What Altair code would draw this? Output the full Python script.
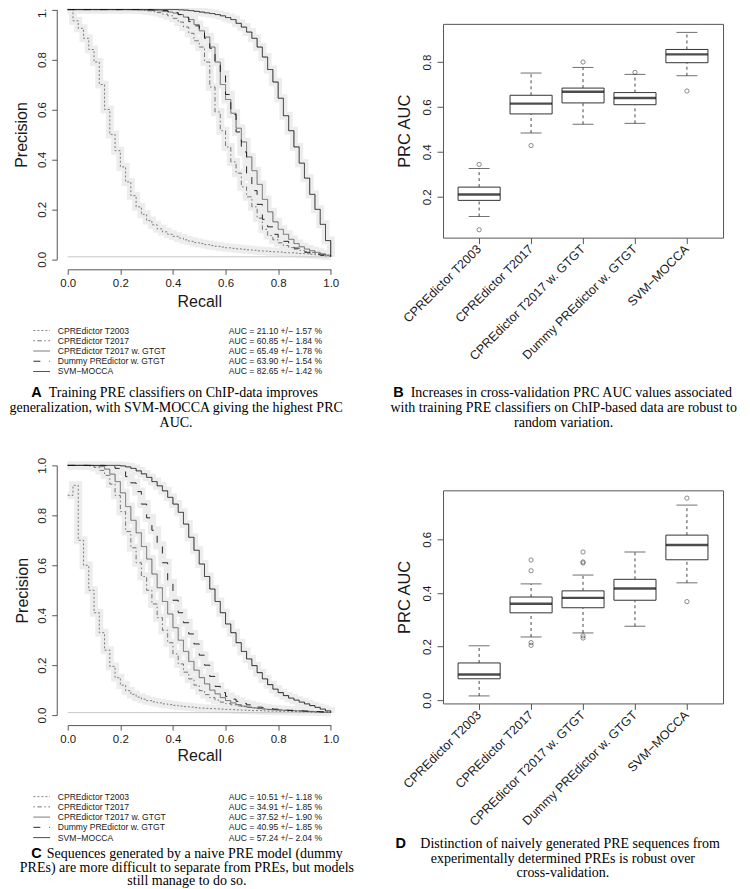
import altair as alt
import pandas as pd

# ---------------- data ----------------
SERIES = ["CPREdictor T2003", "CPREdictor T2017", "CPREdictor T2017 w. GTGT",
          "Dummy PREdictor w. GTGT", "SVM\u2212MOCCA"]

RECALL = [0.00, 0.02, 0.04, 0.06, 0.08, 0.10, 0.12, 0.14, 0.16, 0.18,
          0.20, 0.22, 0.24, 0.26, 0.28, 0.30, 0.32, 0.34, 0.36, 0.38,
          0.40, 0.42, 0.44, 0.46, 0.48, 0.50, 0.52, 0.54, 0.56, 0.58,
          0.60, 0.62, 0.64, 0.66, 0.68, 0.70, 0.72, 0.74, 0.76, 0.78,
          0.80, 0.82, 0.84, 0.86, 0.88, 0.90, 0.92, 0.94, 0.96, 0.98, 1.00]

# Panel A precision values
A_T2003 = [1.000, 0.955, 0.925, 0.885, 0.840, 0.790, 0.700, 0.600, 0.500, 0.435,
           0.370, 0.310, 0.255, 0.210, 0.180, 0.155, 0.138, 0.122, 0.110, 0.100,
           0.092, 0.085, 0.078, 0.072, 0.067, 0.063, 0.059, 0.055, 0.052, 0.049,
           0.046, 0.044, 0.042, 0.040, 0.038, 0.036, 0.034, 0.033, 0.031, 0.030,
           0.029, 0.027, 0.026, 0.025, 0.023, 0.022, 0.020, 0.018, 0.016, 0.013, 0.010]
A_T2017 = [1.000, 1.000, 1.000, 1.000, 1.000, 1.000, 1.000, 1.000, 1.000, 1.000,
           1.000, 1.000, 1.000, 0.999, 0.997, 0.995, 0.992, 0.988, 0.982, 0.975,
           0.965, 0.950, 0.930, 0.905, 0.875, 0.850, 0.790, 0.690, 0.590, 0.515,
           0.450, 0.390, 0.345, 0.290, 0.250, 0.210, 0.165, 0.120, 0.095, 0.078,
           0.066, 0.055, 0.047, 0.041, 0.036, 0.031, 0.027, 0.023, 0.019, 0.015, 0.011]
A_GTGT = [1.000, 1.000, 1.000, 1.000, 1.000, 1.000, 1.000, 1.000, 1.000, 1.000,
          1.000, 1.000, 1.000, 1.000, 0.999, 0.998, 0.997, 0.995, 0.993, 0.990,
          0.986, 0.980, 0.970, 0.960, 0.940, 0.915, 0.890, 0.850, 0.790, 0.700,
          0.640, 0.585, 0.525, 0.470, 0.410, 0.355, 0.300, 0.240, 0.190, 0.150,
          0.120, 0.100, 0.080, 0.063, 0.050, 0.041, 0.034, 0.028, 0.022, 0.017, 0.012]
A_DUMMY = [1.000, 1.000, 1.000, 1.000, 1.000, 1.000, 1.000, 1.000, 1.000, 1.000,
           1.000, 1.000, 1.000, 1.000, 1.000, 1.000, 0.999, 0.998, 0.996, 0.993,
           0.988, 0.980, 0.968, 0.952, 0.935, 0.915, 0.885, 0.845, 0.790, 0.740,
           0.660, 0.580, 0.510, 0.430, 0.330, 0.275, 0.220, 0.160, 0.130, 0.100,
           0.085, 0.072, 0.058, 0.045, 0.036, 0.028, 0.024, 0.020, 0.016, 0.013, 0.010]
A_SVM = [1.000, 1.000, 1.000, 1.000, 1.000, 1.000, 1.000, 1.000, 1.000, 1.000,
         1.000, 1.000, 1.000, 1.000, 1.000, 1.000, 1.000, 1.000, 1.000, 1.000,
         1.000, 0.999, 0.998, 0.996, 0.993, 0.990, 0.987, 0.984, 0.980, 0.975,
         0.968, 0.960, 0.945, 0.930, 0.910, 0.885, 0.850, 0.810, 0.760, 0.710,
         0.645, 0.575, 0.515, 0.450, 0.385, 0.325, 0.260, 0.200, 0.140, 0.075, 0.010]

# Panel C precision values
C_T2003 = [0.880, 0.920, 0.700, 0.600, 0.500, 0.410, 0.330, 0.260, 0.195, 0.150,
           0.120, 0.098, 0.083, 0.072, 0.064, 0.058, 0.053, 0.049, 0.045, 0.042,
           0.039, 0.036, 0.034, 0.032, 0.030, 0.028, 0.027, 0.026, 0.025, 0.024,
           0.023, 0.022, 0.021, 0.020, 0.019, 0.018, 0.018, 0.017, 0.016, 0.016,
           0.015, 0.015, 0.014, 0.014, 0.013, 0.013, 0.012, 0.012, 0.011, 0.011, 0.010]
C_T2017 = [1.000, 1.000, 1.000, 1.000, 0.998, 0.992, 0.980, 0.960, 0.925, 0.880,
           0.815, 0.735, 0.670, 0.610, 0.555, 0.500, 0.445, 0.390, 0.340, 0.290,
           0.245, 0.205, 0.172, 0.145, 0.120, 0.098, 0.082, 0.070, 0.060, 0.052,
           0.046, 0.041, 0.037, 0.034, 0.031, 0.029, 0.027, 0.025, 0.023, 0.022,
           0.021, 0.020, 0.019, 0.018, 0.017, 0.016, 0.015, 0.014, 0.013, 0.012, 0.011]
C_GTGT = [1.000, 1.000, 1.000, 1.000, 1.000, 0.999, 0.995, 0.985, 0.965, 0.935,
          0.890, 0.835, 0.780, 0.730, 0.675, 0.625, 0.565, 0.510, 0.455, 0.405,
          0.350, 0.300, 0.255, 0.215, 0.180, 0.150, 0.125, 0.100, 0.085, 0.070,
          0.058, 0.049, 0.042, 0.036, 0.032, 0.029, 0.026, 0.024, 0.022, 0.021,
          0.020, 0.019, 0.018, 0.017, 0.016, 0.015, 0.014, 0.013, 0.012, 0.011, 0.010]
C_DUMMY = [1.000, 1.000, 1.000, 1.000, 1.000, 1.000, 1.000, 0.999, 0.995, 0.988,
           0.975, 0.955, 0.930, 0.895, 0.845, 0.790, 0.740, 0.680, 0.610, 0.530,
           0.460, 0.410, 0.370, 0.325, 0.285, 0.240, 0.200, 0.155, 0.115, 0.090,
           0.075, 0.064, 0.055, 0.047, 0.041, 0.036, 0.032, 0.029, 0.026, 0.024,
           0.022, 0.020, 0.019, 0.018, 0.017, 0.016, 0.015, 0.014, 0.013, 0.012, 0.010]
C_SVM = [1.000, 1.000, 1.000, 1.000, 1.000, 1.000, 1.000, 1.000, 1.000, 1.000,
         0.998, 0.994, 0.988, 0.978, 0.966, 0.952, 0.935, 0.918, 0.898, 0.872,
         0.845, 0.812, 0.765, 0.712, 0.660, 0.605, 0.555, 0.505, 0.455, 0.410,
         0.365, 0.330, 0.290, 0.255, 0.225, 0.198, 0.170, 0.145, 0.122, 0.104,
         0.090, 0.078, 0.068, 0.060, 0.052, 0.045, 0.038, 0.031, 0.024, 0.017, 0.010]

BASELINE_A = 0.010
BASELINE_C = 0.010

AUC_A = ["AUC = 21.10 +/\u2212 1.57 %", "AUC = 60.85 +/\u2212 1.84 %", "AUC = 65.49 +/\u2212 1.78 %",
         "AUC = 63.90 +/\u2212 1.54 %", "AUC = 82.65 +/\u2212 1.42 %"]
AUC_C = ["AUC = 10.51 +/\u2212 1.18 %", "AUC = 34.91 +/\u2212 1.85 %", "AUC = 37.52 +/\u2212 1.90 %",
         "AUC = 40.95 +/\u2212 1.85 %", "AUC = 57.24 +/\u2212 2.04 %"]

# Boxplot statistics (panel B)
B_LW = [0.112, 0.484, 0.523, 0.527, 0.739]
B_Q1 = [0.184, 0.569, 0.618, 0.610, 0.797]
B_MED = [0.210, 0.615, 0.668, 0.640, 0.834]
B_Q3 = [0.243, 0.652, 0.684, 0.664, 0.856]
B_UW = [0.326, 0.751, 0.776, 0.745, 0.932]
B_OUT_CAT = [SERIES[0], SERIES[0], SERIES[1], SERIES[2], SERIES[3], SERIES[4]]
B_OUT_VAL = [0.344, 0.053, 0.428, 0.800, 0.754, 0.671]

# Boxplot statistics (panel D)
D_LW = [0.016, 0.236, 0.251, 0.276, 0.438]
D_Q1 = [0.080, 0.326, 0.345, 0.373, 0.524]
D_MED = [0.096, 0.360, 0.382, 0.417, 0.579]
D_Q3 = [0.139, 0.385, 0.408, 0.451, 0.616]
D_UW = [0.203, 0.434, 0.467, 0.553, 0.728]
D_OUT_CAT = [SERIES[1], SERIES[1], SERIES[1], SERIES[1],
             SERIES[2], SERIES[2], SERIES[2], SERIES[2], SERIES[2],
             SERIES[4], SERIES[4]]
D_OUT_VAL = [0.523, 0.483, 0.215, 0.205,
             0.553, 0.516, 0.512, 0.240, 0.232,
             0.754, 0.368]

PR_TICKS = [0.0, 0.2, 0.4, 0.6, 0.8, 1.0]
B_TICKS = [0.2, 0.4, 0.6, 0.8]
D_TICKS = [0.0, 0.2, 0.4, 0.6]

CAP_A = ["Training PRE classifiers on ChIP-data improves",
         "generalization, with SVM-MOCCA giving the highest PRC",
         "AUC."]
CAP_B = ["Increases in cross-validation PRC AUC values associated",
         "with training PRE classifiers on ChIP-based data are robust to",
         "random variation."]
CAP_C = ["Sequences generated by a naive PRE model (dummy",
         "PREs) are more difficult to separate from PREs, but models",
         "still manage to do so."]
CAP_D = ["Distinction of naively generated PRE sequences from",
         "experimentally determined PREs is robust over",
         "cross-validation."]

# ---------------- styles ----------------
SANS = "Liberation Sans"
SERIF = "Liberation Serif"
AXC = "#555555"
TXT = "#1a1a1a"
DASHES = [[2, 2], [1.5, 2.5, 4.5, 2.5], [1, 0], [7, 9], [1, 0]]
WIDTHS = [0.9, 0.9, 0.8, 3.0, 3.0]
COLORS = ["#707070", "#686868", "#5e5e5e", "#111111", "#111111"]

W_LEFT = 263.3
W_RIGHT = 280.3
CAP_FS = 14.0


def text_layer(txt, x, y, **kw):
    return alt.Chart(pd.DataFrame({"t": [txt]})).mark_text(**kw).encode(
        text="t:N", x=alt.value(x), y=alt.value(y))


def caption_layers(letter, lines, letter_x, line1_x, center_x, ys):
    out = [text_layer(letter, letter_x, ys[0], align="left", baseline="middle", font=SANS,
                      fontWeight="bold", fontSize=14.5, color="#000")]
    out.append(text_layer(lines[0], line1_x, ys[0], align="left", baseline="middle",
                          font=SERIF, fontSize=CAP_FS, color="#000"))
    for ln, yy in zip(lines[1:], ys[1:]):
        out.append(text_layer(ln, center_x, yy, align="center", baseline="middle",
                              font=SERIF, fontSize=CAP_FS, color="#000"))
    return out


def pr_panel(vals_list, baseline, aucs, letter, cap, geo):
    rows = []
    for name, vals in zip(SERIES, vals_list):
        assert len(vals) == len(RECALL), name
        for r, p in zip(RECALL, vals):
            rows.append({"series": name, "recall": r, "precision": p})
    df = pd.DataFrame(rows)

    x_axis = alt.Axis(values=PR_TICKS, format=".1f", title="Recall", offset=10, tickSize=5,
                      labelPadding=3, grid=False, domainColor=AXC, tickColor=AXC,
                      labelColor=TXT, titleColor=TXT, labelFont=SANS, titleFont=SANS,
                      labelFontSize=11.5, titleFontSize=16, titleFontWeight="normal",
                      titleY=geo["title_y"], titleBaseline="middle",
                      labelFlush=False, labelOverlap=False, labelBound=False)
    y_axis = alt.Axis(values=PR_TICKS, format=".1f", title="Precision", offset=11, tickSize=5,
                      labelAngle=270, labelAlign="center", labelBaseline="alphabetic",
                      labelPadding=6, grid=False, domainColor=AXC, tickColor=AXC,
                      labelColor=TXT, titleColor=TXT, labelFont=SANS, titleFont=SANS,
                      labelFontSize=11.5, titleFontSize=16, titleFontWeight="normal",
                      titleX=geo["title_x"], titleAngle=270, titleAlign="center",
                      titleBaseline="middle", labelFlush=False, labelOverlap=False,
                      labelBound=False)
    x = alt.X("recall:Q", scale=alt.Scale(domain=[0, 1], nice=False, zero=False), axis=x_axis)
    y = alt.Y("precision:Q", scale=alt.Scale(domain=[0, 1], range=[geo["y0"], geo["y1"]],
                                             nice=False, zero=False), axis=y_axis)
    dash = alt.StrokeDash("series:N", scale=alt.Scale(domain=SERIES, range=DASHES), legend=None)
    swid = alt.StrokeWidth("series:O", scale=alt.Scale(domain=SERIES, range=WIDTHS), legend=None)
    col = alt.Color("series:N", scale=alt.Scale(domain=SERIES, range=COLORS), legend=None)

    bands = alt.Chart(df).mark_line(interpolate="step-after", strokeWidth=8, color="#ededed",
                                    strokeCap="butt", strokeJoin="miter").encode(
        x=x, y=y, detail="series:N")
    rule = alt.Chart(pd.DataFrame({"precision": [baseline]})).mark_rule(
        color="#c8c8c8", strokeWidth=1).encode(y=y)
    lines = alt.Chart(df).mark_line(interpolate="step-after", strokeCap="butt",
                                    strokeJoin="miter").encode(
        x=x, y=y, color=col, strokeDash=dash, strokeWidth=swid)

    leg_df = pd.DataFrame({"series": SERIES, "auc": aucs, "row": [0, 1, 2, 3, 4]})
    leg = alt.Chart(leg_df).transform_calculate(ly=f"{geo['leg_y0']} + datum.row * 10.25")
    ly = alt.Y("ly:Q", scale=None, axis=None)
    samples = leg.mark_rule(strokeCap="butt").encode(
        x=alt.value(-34.4), x2=alt.value(-17.7), y=ly, color=col, strokeDash=dash,
        strokeWidth=swid)
    names = leg.mark_text(align="left", baseline="middle", font=SANS, fontSize=8.6,
                          color=TXT).encode(x=alt.value(-10), y=ly, text="series:N")
    aucs_t = leg.mark_text(align="left", baseline="middle", font=SANS, fontSize=8.6,
                           color=TXT).encode(x=alt.value(161.3), y=ly, text="auc:N")

    caps = caption_layers(letter, cap, geo["letter_x"], geo["line1_x"], geo["cap_cx"],
                          geo["cap_ys"])
    return alt.layer(bands, rule, lines, samples, names, aucs_t, *caps).properties(
        width=W_LEFT, height=geo["y0"])


def box_panel(lw, q1, med, q3, uw, out_cat, out_val, ydom, yticks, height, letter, cap, geo):
    bdf = pd.DataFrame({"cat": SERIES, "lw": lw, "q1": q1, "med": med, "q3": q3, "uw": uw})
    odf = pd.DataFrame({"cat": out_cat, "val": out_val})
    x_axis = alt.Axis(title=None, labelAngle=315, labelAlign="right", labelBaseline="middle",
                      labelPadding=3, tickSize=6, domain=False, grid=False, tickColor=AXC,
                      labelColor=TXT, labelFont=SANS, labelFontSize=12.5)
    y_axis = alt.Axis(values=yticks, format=".1f", title="PRC AUC", tickSize=6, domain=False,
                      labelAngle=270, labelAlign="center", labelBaseline="alphabetic",
                      labelPadding=6.5, grid=False, tickColor=AXC, labelColor=TXT,
                      titleColor=TXT, labelFont=SANS, titleFont=SANS, labelFontSize=11.5,
                      titleFontSize=16.5, titleFontWeight="normal", titleX=-38.7,
                      titleAngle=270, titleAlign="center", titleBaseline="middle",
                      labelFlush=False, labelOverlap=False, labelBound=False)
    xs = alt.Scale(domain=SERIES, paddingInner=0.19, paddingOuter=0.29)
    ys = alt.Scale(domain=ydom, nice=False, zero=False)
    x = alt.X("cat:N", scale=xs, sort=SERIES, axis=x_axis)

    def Y(f):
        return alt.Y(f + ":Q", scale=ys, axis=y_axis)

    base = alt.Chart(bdf)
    wl = base.mark_rule(color="#333", strokeWidth=0.9, strokeDash=[3, 3]).encode(
        x=x, y=Y("lw"), y2="q1:Q")
    wu = base.mark_rule(color="#333", strokeWidth=0.9, strokeDash=[3, 3]).encode(
        x=x, y=Y("q3"), y2="uw:Q")
    capl = base.mark_tick(color="#333", size=21, thickness=1).encode(x=x, y=Y("lw"))
    capu = base.mark_tick(color="#333", size=21, thickness=1).encode(x=x, y=Y("uw"))
    box = base.mark_bar(fill="white", stroke="#333", strokeWidth=1).encode(
        x=x, y=Y("q1"), y2="q3:Q")
    medl = base.mark_tick(color="#000", size=42, thickness=2.4).encode(x=x, y=Y("med"))
    outl = alt.Chart(odf).mark_point(shape="circle", filled=False, size=18, strokeWidth=0.8,
                                     color="#333").encode(x=x, y=Y("val"))
    caps = caption_layers(letter, cap, geo["letter_x"], geo["line1_x"], geo["cap_cx"],
                          geo["cap_ys"])
    return alt.layer(wl, wu, capl, capu, box, medl, outl, *caps).properties(
        width=W_RIGHT, height=height,
        view=alt.ViewBackground(stroke="#555555", strokeWidth=1))


panel_a = pr_panel([A_T2003, A_T2017, A_GTGT, A_DUMMY, A_SVM], BASELINE_A, AUC_A, "A", CAP_A,
                   dict(y0=235.7, y1=-14.3, title_y=32, title_x=-35.7, leg_y0=307,
                        letter_x=-36.5, line1_x=-19.0, cap_cx=108.5, cap_ys=[370, 385, 400]))
panel_c = pr_panel([C_T2003, C_T2017, C_GTGT, C_DUMMY, C_SVM], BASELINE_C, AUC_C, "C", CAP_C,
                   dict(y0=225, y1=-25, title_y=30, title_x=-34.2, leg_y0=306.6,
                        letter_x=-36.5, line1_x=-21.0, cap_cx=119.3,
                        cap_ys=[364, 378, 391.5]))
panel_b = box_panel(B_LW, B_Q1, B_MED, B_Q3, B_UW, B_OUT_CAT, B_OUT_VAL, [0.018, 0.970],
                    B_TICKS, 214, "B", CAP_B,
                    dict(letter_x=-49.8, line1_x=-32.4, cap_cx=120.8, cap_ys=[370, 385, 400]))
panel_d = box_panel(D_LW, D_Q1, D_MED, D_Q3, D_UW, D_OUT_CAT, D_OUT_VAL, [-0.012, 0.783],
                    D_TICKS, 213.3, "D", CAP_D,
                    dict(letter_x=-47.7, line1_x=-22.7, cap_cx=120, cap_ys=[354.3, 369, 383.3]))

chart = alt.concat(panel_a, panel_b, panel_c, panel_d, columns=2,
                   spacing={"row": 231, "column": 111.7}, bounds="flush").properties(
    padding={"left": 0.8, "top": -15.6, "right": 4, "bottom": 17},
    background="white",
).configure_view(strokeWidth=0)

chart.save("out.html", embed_options={"renderer": "svg", "actions": False})
